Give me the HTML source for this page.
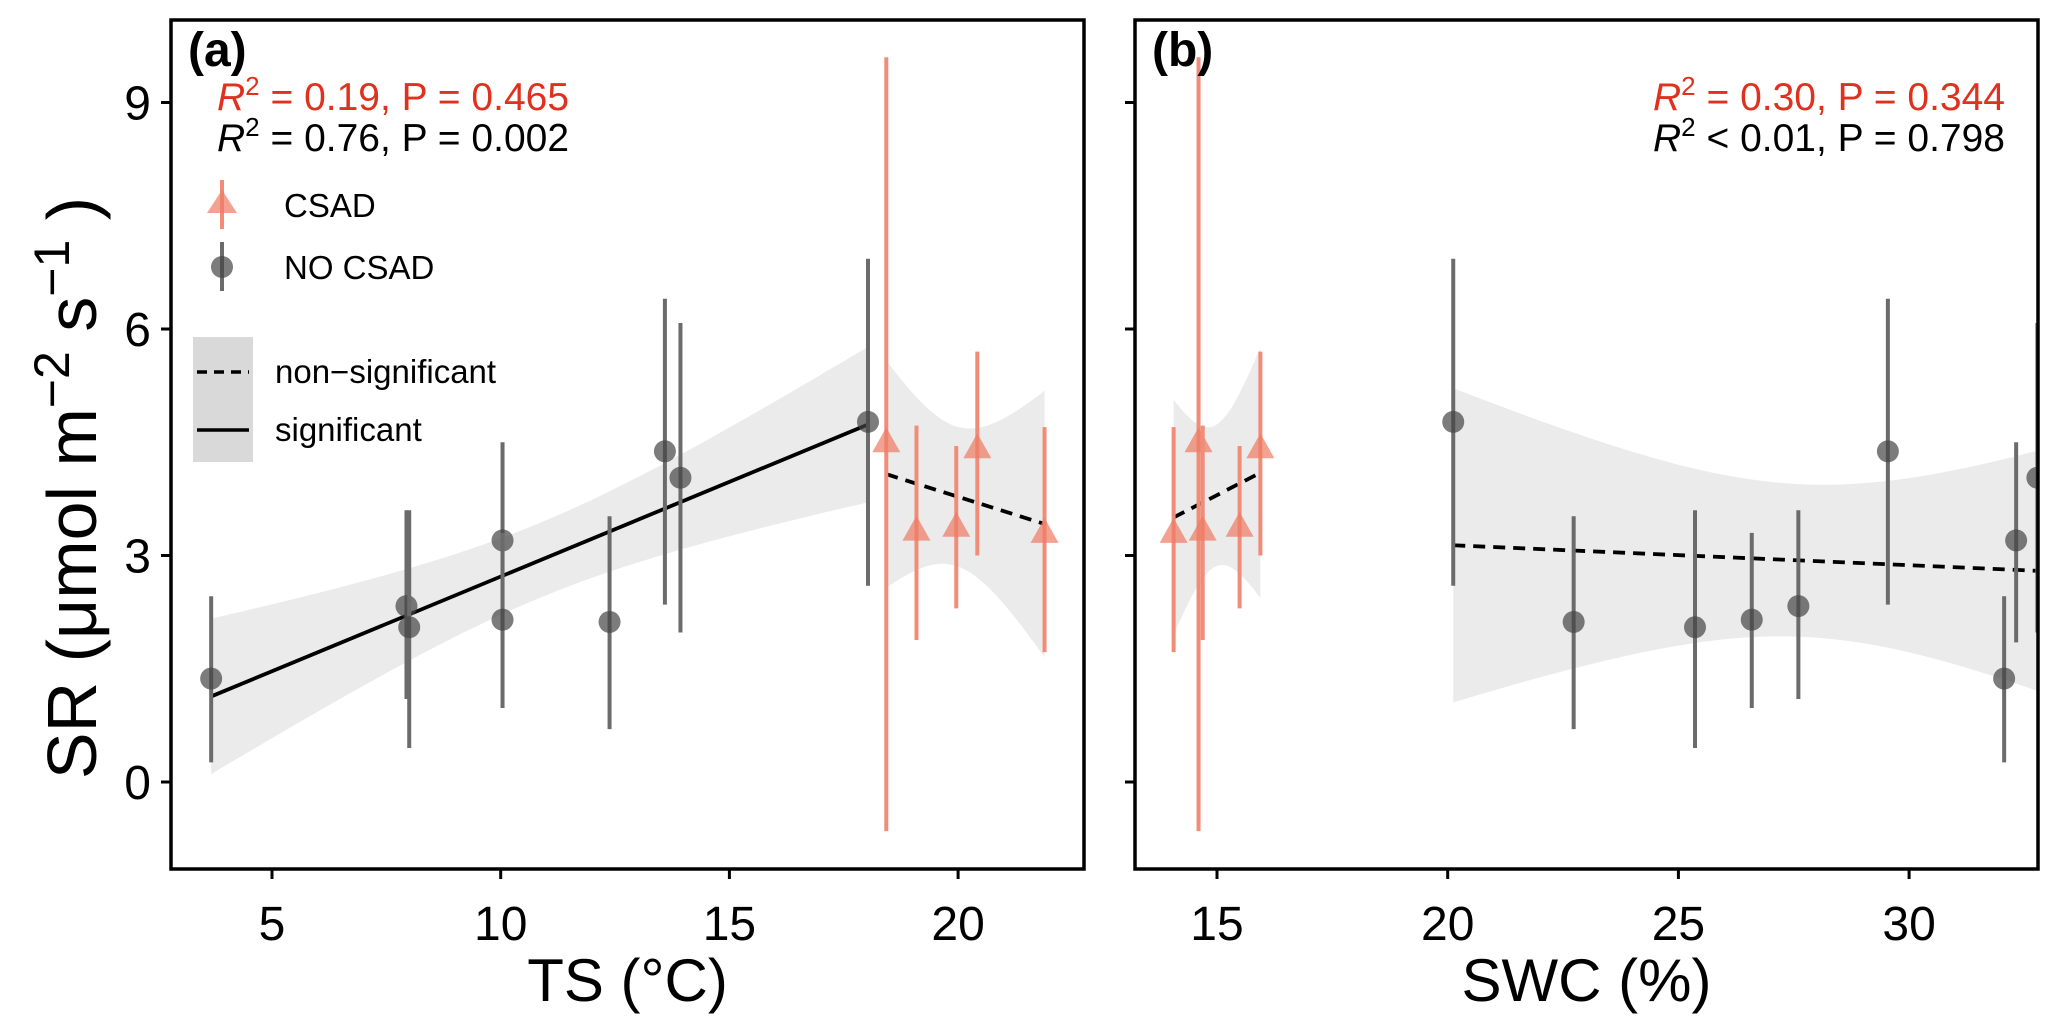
<!DOCTYPE html>
<html><head><meta charset="utf-8"><style>
html,body{margin:0;padding:0;background:#fff;}
svg{display:block;font-family:"Liberation Sans",Arial,sans-serif;}
</style></head><body>
<svg id="chart" width="2067" height="1032" viewBox="0 0 2067 1032">
<defs>
<clipPath id="clipA"><rect x="171" y="20" width="913" height="849"/></clipPath>
<clipPath id="clipB"><rect x="1135" y="20" width="903" height="849"/></clipPath>
</defs>
</svg>
<script>
// ---- data ----
const blackTS  = [3.67, 7.94, 8.0, 10.04, 10.04, 12.38, 13.59, 13.93, 18.03];
const blackSWC = [32.06, 27.6, 25.36, 32.32, 26.59, 22.73, 29.54, 32.78, 20.12];
const blackSR  = [1.37, 2.33, 2.05, 3.2, 2.15, 2.12, 4.38, 4.03, 4.77];
const blackLo  = [0.26, 1.1, 0.45, 1.85, 0.98, 0.7, 2.35, 1.98, 2.6];
const blackHi  = [2.46, 3.6, 3.6, 4.5, 3.3, 3.52, 6.4, 6.08, 6.93];
const redTS  = [18.43, 19.09, 19.96, 20.42, 21.89];
const redSWC = [14.6, 14.69, 15.49, 15.94, 14.06];
const redSR  = [4.5, 3.33, 3.38, 4.42, 3.3];
const redLo  = [-0.65, 1.88, 2.3, 3.0, 1.72];
const redHi  = [9.6, 4.72, 4.45, 5.7, 4.7];
const yTicks = [0, 3, 6, 9];
const xTicksA = [5, 10, 15, 20];
const xTicksB = [15, 20, 25, 30];

const NS = "http://www.w3.org/2000/svg";
const svg = document.getElementById('chart');
function mk(tag, attrs, parent){const e=document.createElementNS(NS,tag);for(const k in attrs)e.setAttribute(k,attrs[k]);(parent||svg).appendChild(e);return e;}

const Y = v => 782 - 75.5*v;
const XA = v => 272 + 45.74*(v-5);
const XB = v => 1217 + 46.14*(v-15);

function fit(xs, ys){
  const n=xs.length, mx=xs.reduce((a,b)=>a+b)/n, my=ys.reduce((a,b)=>a+b)/n;
  let sxx=0,sxy=0; for(let i=0;i<n;i++){sxx+=(xs[i]-mx)**2;sxy+=(xs[i]-mx)*(ys[i]-my);}
  const b=sxy/sxx, a=my-b*mx; let sse=0; for(let i=0;i<n;i++) sse+=(ys[i]-a-b*xs[i])**2;
  const s=Math.sqrt(sse/(n-2)); const t={3:3.182,7:2.365}[n-2]||2.3;
  return {a,b,mx,sxx,s,t,n,min:Math.min(...xs),max:Math.max(...xs)};
}
function drawFit(g, xs, ys, X, dashed, name){
  const f=fit(xs,ys); const up=[],dn=[];
  for(let i=0;i<=80;i++){const x=f.min+(f.max-f.min)*i/80; const yh=f.a+f.b*x;
    const se=f.s*Math.sqrt(1/f.n+(x-f.mx)**2/f.sxx);
    up.push(X(x)+','+Y(yh+f.t*se)); dn.unshift(X(x)+','+Y(yh-f.t*se));}
  const band=mk('polygon',{points:up.concat(dn).join(' '),fill:'#999',opacity:0.2},g);
  
  
  const ln=mk('line',{x1:X(f.min),y1:Y(f.a+f.b*f.min),x2:X(f.max),y2:Y(f.a+f.b*f.max),stroke:'#000','stroke-width':3.8,'stroke-dasharray':dashed?'12,8':'none'},g);
  
  
}
function drawPts(g, xs, ys, lo, hi, X, red, name){
  for(let i=0;i<xs.length;i++){
    const x=X(xs[i]);
    const eb=mk('line',{x1:x,y1:Y(lo[i]),x2:x,y2:Y(hi[i]),stroke:red?'#f08c78':'#6b6b6b','stroke-width':4},g);
    
    
    let p;
    if(red){const y=Y(ys[i]);p=mk('polygon',{points:`${x},${y-15} ${x-14},${y+10} ${x+14},${y+10}`,fill:'#ee7a62','fill-opacity':0.7},g);}
    else p=mk('circle',{cx:x,cy:Y(ys[i]),r:11,fill:'#444','fill-opacity':0.7},g);
    
    
  }
}
function panel(left,right,X,xTicks,xsB,xsR,labels,title,lab,id){
  const g=mk('g',{'clip-path':`url(#${id})`});
  
  
  drawFit(g, xsB, blackSR, X, id==='clipB', 'no-csad');
  drawFit(g, xsR, redSR, X, true, 'csad');
  drawPts(g, xsB, blackSR, blackLo, blackHi, X, false, 'no-csad');
  drawPts(g, xsR, redSR, redLo, redHi, X, true, 'csad');
  const fr=mk('rect',{x:left,y:20,width:right-left,height:849,fill:'none',stroke:'#000','stroke-width':3.5});
  
  
  yTicks.forEach(v=>{const t=mk('line',{x1:left-10,x2:left,y1:Y(v),y2:Y(v),stroke:'#000','stroke-width':3});
    
    if(labels){const tx=mk('text',{x:left-20,y:Y(v)+17,'text-anchor':'end','font-size':48});tx.textContent=v;
      }});
  xTicks.forEach(v=>{const t=mk('line',{x1:X(v),x2:X(v),y1:869,y2:879,stroke:'#000','stroke-width':3});
    
    const tx=mk('text',{x:X(v),y:940,'text-anchor':'middle','font-size':48});tx.textContent=v;
    });
  const xt=mk('text',{x:(left+right)/2,y:1001,'text-anchor':'middle','font-size':60});xt.textContent=title;
  
  const pl=mk('text',{x:left+17,y:66,'font-size':48,'font-weight':'bold'});pl.textContent='('+lab+')';
  
}
panel(171,1084,XA,xTicksA,blackTS,redTS,true,'TS (°C)','a','clipA');
panel(1135,2038,XB,xTicksB,blackSWC,redSWC,false,'SWC (%)','b','clipB');
</script>
<svg style="position:absolute;left:0;top:0" width="2067" height="1032">
<g font-family="Liberation Sans, Arial, sans-serif" font-size="39">
<text x="217" y="110" fill="#e0301e"><tspan font-style="italic">R</tspan><tspan dy="-15" font-size="26">2</tspan><tspan dy="15"> = 0.19, P = 0.465</tspan></text>
<text x="217" y="151" fill="#000"><tspan font-style="italic">R</tspan><tspan dy="-15" font-size="26">2</tspan><tspan dy="15"> = 0.76, P = 0.002</tspan></text>
<text x="2005" y="110" fill="#e0301e" text-anchor="end"><tspan font-style="italic">R</tspan><tspan dy="-15" font-size="26">2</tspan><tspan dy="15"> = 0.30, P = 0.344</tspan></text>
<text x="2005" y="151" fill="#000" text-anchor="end"><tspan font-style="italic">R</tspan><tspan dy="-15" font-size="26">2</tspan><tspan dy="15"> &lt; 0.01, P = 0.798</tspan></text>
</g>
<g font-family="Liberation Sans, Arial, sans-serif" font-size="33">
<line x1="222" y1="180" x2="222" y2="229" stroke="#f08c78" stroke-width="4"/>
<polygon points="222,190 207,213 237,213" fill="#ee7a62" fill-opacity="0.7"/>
<text x="284" y="217">CSAD</text>
<line x1="222" y1="242" x2="222" y2="291" stroke="#6b6b6b" stroke-width="4"/>
<circle cx="222" cy="267" r="11" fill="#444" fill-opacity="0.7"/>
<text x="284" y="279">NO CSAD</text>
<rect x="193" y="337" width="60" height="125" fill="#d9d9d9"/>
<line x1="197" y1="372" x2="249" y2="372" stroke="#000" stroke-width="3.5" stroke-dasharray="10,7"/>
<text x="275" y="383">non−significant</text>
<line x1="197" y1="430" x2="249" y2="430" stroke="#000" stroke-width="3.5"/>
<text x="275" y="441">significant</text>
</g>
<text transform="translate(96,488) rotate(-90)" text-anchor="middle" font-family="Liberation Sans, Arial, sans-serif" font-size="70">SR (μmol m<tspan dy="-27" font-size="50">−2</tspan><tspan dy="27"> s</tspan><tspan dy="-27" font-size="50">−1</tspan><tspan dy="27"> )</tspan></text>
</svg>
</body></html>
